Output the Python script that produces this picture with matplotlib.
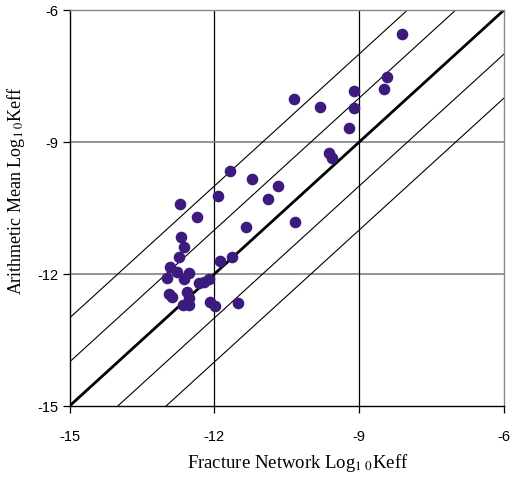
import matplotlib
matplotlib.use("Agg")
import matplotlib.pyplot as plt

# fracture network log10 Keff vs arithmetic mean log10 Keff
fracture_logk = [-8.12, -8.43, -8.48, -9.10, -9.10, -9.21, -10.36, -9.82, -9.62, -9.56,
                 -10.33, -10.69, -10.89, -11.23, -11.67, -11.93, -11.35, -12.35, -12.72,
                 -12.69, -12.62, -12.74, -11.64, -11.89, -12.92, -12.77, -12.53, -12.98,
                 -12.62, -12.32, -12.22, -12.11, -12.94, -12.88, -12.56, -12.53, -12.64,
                 -12.53, -12.09, -11.99, -11.52]
arith_logk = [-6.55, -7.53, -7.79, -7.84, -8.23, -8.67, -8.02, -8.20, -9.24, -9.36,
              -10.81, -10.01, -10.30, -9.84, -9.66, -10.23, -10.93, -10.70, -10.41,
              -11.15, -11.39, -11.62, -11.61, -11.71, -11.85, -11.95, -11.97, -12.09,
              -12.11, -12.20, -12.17, -12.11, -12.45, -12.52, -12.40, -12.54, -12.70,
              -12.70, -12.63, -12.72, -12.65]

ticks = [-15, -12, -9, -6]
offsets = [-2, -1, 1, 2]

plt.rcParams['font.family'] = 'Liberation Sans'
plt.rcParams['mathtext.fontset'] = 'stix'

fig = plt.figure(figsize=(5.13, 4.78), dpi=100)
ax = fig.add_axes([0.1355, 0.1506, 0.847, 0.8284])

ax.set_xlim(-15, -6)
ax.set_ylim(-15, -6)

for v in [-12, -9]:
    ax.axvline(v, color='black', lw=0.9, zorder=1)
    ax.axhline(v, color='#777777', lw=1.1, zorder=1)

lo, hi = -15, -6
for off in offsets:
    ax.plot([lo - 3, hi + 3], [lo - 3 + off, hi + 3 + off], color='black', lw=0.8, zorder=2)
ax.plot([lo, hi], [lo, hi], color='black', lw=2.0, zorder=2)

ax.scatter(fracture_logk, arith_logk, s=70, color='#3d1a7e', zorder=3, linewidths=0)

ax.set_xticks(ticks)
ax.set_yticks(ticks)
ax.set_xticklabels([str(t) for t in ticks])
ax.set_yticklabels([str(t) for t in ticks])
ax.tick_params(direction='out', length=5, width=0.9, labelsize=10.5)
ax.tick_params(axis='y', pad=3)
ax.tick_params(axis='x', pad=12)

for s in ['left', 'bottom']:
    ax.spines[s].set_color('black')
    ax.spines[s].set_linewidth(1.0)
for s in ['top', 'right']:
    ax.spines[s].set_color('#888888')
    ax.spines[s].set_linewidth(1.0)

ax.set_xlabel(r'Fracture Network Log$_{1\ 0}$Keff', family='Liberation Serif', fontsize=13.5)
ax.set_ylabel(r'Arithmetic Mean Log$_{1\ 0}$Keff', family='Liberation Serif', fontsize=13)
ax.xaxis.set_label_coords(0.525, -0.115)
ax.yaxis.set_label_coords(-0.098, 0.545)

fig.savefig('out.png', dpi=100)
